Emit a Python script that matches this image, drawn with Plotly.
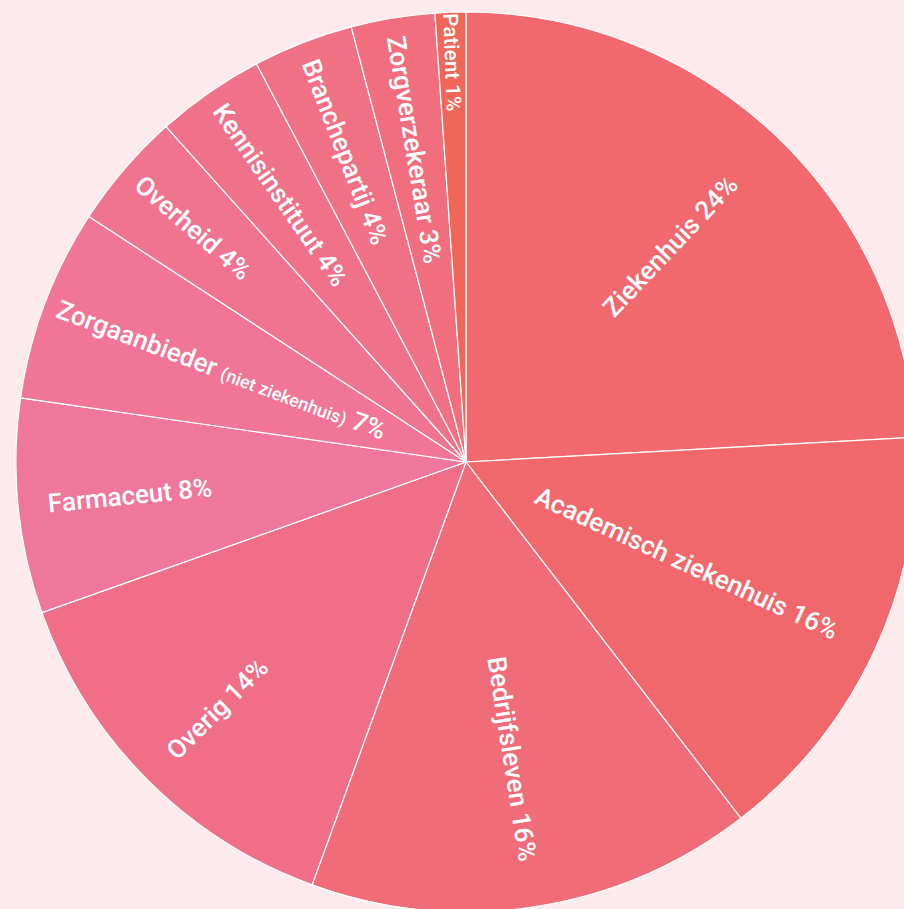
import plotly.graph_objects as go

# Categories (clockwise from 12 o'clock)
categories = [
    "Ziekenhuis",
    "Academisch ziekenhuis",
    "Bedrijfsleven",
    "Overig",
    "Farmaceut",
    "Zorgaanbieder <span style='font-size:18px'>(niet ziekenhuis)</span>",
    "Overheid",
    "Kennisinstituut",
    "Branchepartij",
    "Zorgverzekeraar",
    "Patient",
]
# Slice sizes (share in %)
values = [24.1, 15.4, 16.0, 14.0, 7.7, 6.9, 4.2, 3.9, 3.6, 3.0, 1.1]
# Percentages as printed on the labels
pct_shown = [24, 16, 16, 14, 8, 7, 4, 4, 4, 3, 1]

slice_colors = [
    "#F1686E", "#F1686C", "#F06C78", "#F06E88", "#F0779C", "#F07596",
    "#F07490", "#F0728A", "#F07084", "#F06E7E", "#F06658",
]

# label padding (non-breaking spaces) before / after, to nudge text outward
pad_before = [19, 0, 18, 0, 3, 0, 0, 0, 0, 0, 0]
pad_after = [0, 0, 0, 33, 28, 0, 22, 10, 10, 0, 0]

labels_text = [
    "&nbsp;" * b + f"{c} {p}%" + "&nbsp;" * a
    for c, p, b, a in zip(categories, pct_shown, pad_before, pad_after)
]

W, H = 916, 912
fig = go.Figure(
    go.Pie(
        labels=categories,
        values=values,
        text=labels_text,
        textinfo="text",
        textposition="inside",
        insidetextorientation="radial",
        sort=False,
        direction="clockwise",
        rotation=0,
        marker=dict(colors=slice_colors, line=dict(color="white", width=1.2)),
        textfont=dict(family="Roboto, 'Noto Sans', sans-serif", size=26, color="white", weight=500),
        hoverinfo="skip",
        showlegend=False,
        domain=dict(x=[16 / W, 1], y=[0, (H - 12) / H]),
    )
)

fig.update_layout(
    width=W,
    height=H,
    margin=dict(l=0, r=0, t=0, b=0),
    paper_bgcolor="#FCEAEC",
    plot_bgcolor="#FCEAEC",
    showlegend=False,
)

fig.write_html(
    "out.html",
    config={"displayModeBar": False},
    post_script="document.body.style.margin='0';document.body.style.overflow='hidden';document.documentElement.style.overflow='hidden';",
)
